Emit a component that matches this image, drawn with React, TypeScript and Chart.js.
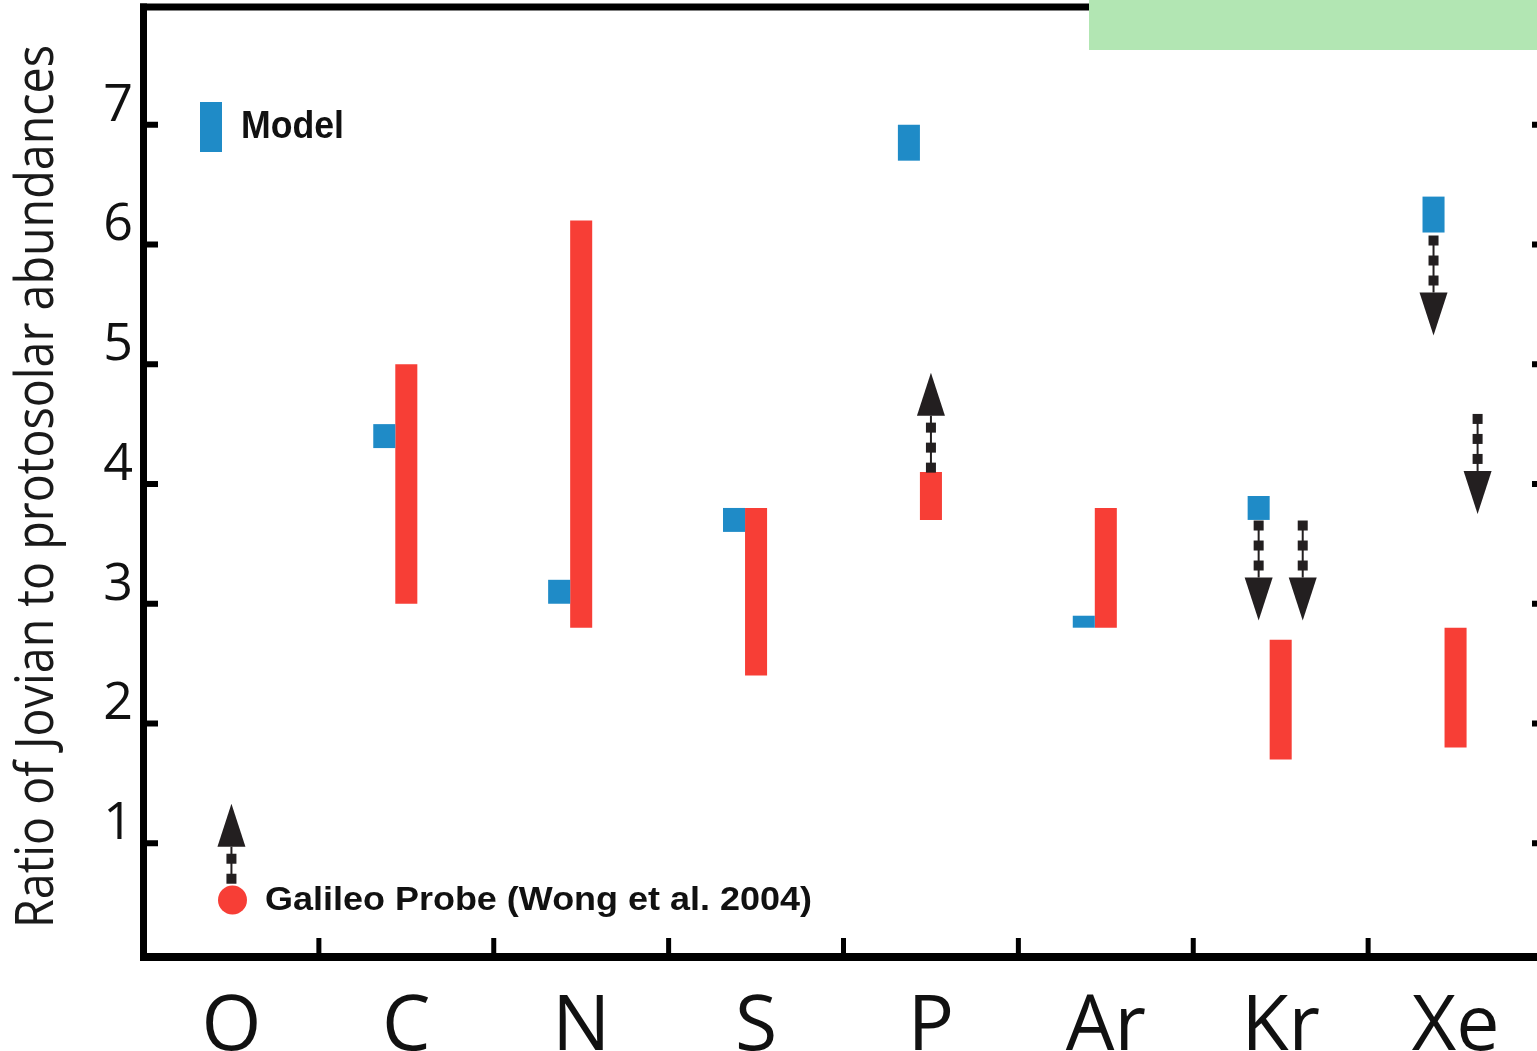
import React, { useEffect, useRef } from 'react';
import { Chart, registerables } from 'chart.js';

Chart.register(...registerables);

// ---------- data ----------
const categories = ['O', 'C', 'N', 'S', 'P', 'Ar', 'Kr', 'Xe'];
const modelLow = [null, 4.3, 3.0, 3.6, 6.7, 2.8, 3.7, 6.1];
const modelHigh = [null, 4.5, 3.2, 3.8, 7.0, 2.9, 3.9, 6.4];
const probeLow = [null, 3.0, 2.8, 2.4, 3.7, 2.8, 1.7, 1.8];
const probeHigh = [null, 5.0, 6.2, 3.8, 4.1, 3.8, 2.7, 2.8];
const yTickValues = [1, 2, 3, 4, 5, 6, 7];

// limit arrows (category, which slot they belong to, start value, tip value)
const arrowCategory = ['O', 'P', 'Kr', 'Kr', 'Xe', 'Xe'];
const arrowSlot = ['probe', 'probe', 'model', 'extra', 'model', 'extra'];
const arrowFrom = [0.62, 4.1, 3.7, 3.7, 6.1, 4.6];
const arrowTo = [1.33, 4.93, 2.86, 2.86, 5.24, 3.75];

const legendLabels = ['Model', 'Galileo Probe (Wong et al. 2004)'];
const yTitle = 'Ratio of Jovian to protosolar abundances';

// ---------- styles ----------
const BLUE = '#1f8bc7';
const RED = '#f73e36';
const INK = '#111111';
const ARROW = '#231f20';
const GREEN = '#b2e6b3';
const CAT_PCT = 0.378;
const CANVAS_W = 1560;
const CANVAS_H = 1051;

function fittedText(ctx: CanvasRenderingContext2D, text: string, x: number, y: number, width: number) {
  const m = ctx.measureText(text).width;
  ctx.save();
  ctx.translate(x, y);
  ctx.scale(width / m, 1);
  ctx.fillText(text, 0, 0);
  ctx.restore();
}

const decorPlugin = {
  id: 'decor',
  afterDatasetsDraw(chart: any) {
    const { ctx, chartArea: ca, scales } = chart;
    const xs = scales.x;
    const ys = scales.y;
    const catW = (ca.right - ca.left) / categories.length;
    const slot = (catW * CAT_PCT) / 3;
    ctx.save();
    ctx.fillStyle = ARROW;
    ctx.strokeStyle = ARROW;
    for (let i = 0; i < arrowCategory.length; i++) {
      const idx = categories.indexOf(arrowCategory[i]);
      const off = arrowSlot[i] === 'model' ? -slot : arrowSlot[i] === 'extra' ? slot : 0;
      const x = xs.getPixelForValue(idx) + off;
      const yFrom = ys.getPixelForValue(arrowFrom[i]);
      const yTo = ys.getPixelForValue(arrowTo[i]);
      const dir = Math.sign(yTo - yFrom);
      const headLen = 43;
      const headHalf = 14;
      const baseY = yTo - dir * headLen;
      const stem = Math.abs(baseY - yFrom);
      let lastD = 0;
      for (let d = 12; d + 5 <= stem + 1; d += 20) {
        const cy = baseY - dir * d;
        ctx.fillRect(x - 5, cy - 5, 10, 10);
        lastD = d;
      }
      ctx.lineWidth = 2;
      ctx.beginPath();
      ctx.moveTo(x, baseY - dir * lastD);
      ctx.lineTo(x, baseY);
      ctx.stroke();
      ctx.beginPath();
      ctx.moveTo(x - headHalf, baseY);
      ctx.lineTo(x + headHalf, baseY);
      ctx.lineTo(x, yTo);
      ctx.closePath();
      ctx.fill();
    }
    ctx.restore();
  },
  afterDraw(chart: any) {
    const { ctx, chartArea: ca, scales } = chart;
    const xs = scales.x;
    const ys = scales.y;
    ctx.save();
    ctx.fillStyle = '#000';
    // frame
    const left = ca.left - 4;
    const top = ca.top - 1.5;
    const bottom = ca.bottom - 2;
    const right = ca.right + 3;
    ctx.fillRect(left, top, 7, bottom - top);
    ctx.fillRect(left, top, right - left + 7, 7);
    ctx.fillRect(left, bottom - 8, right - left + 7, 8);
    ctx.fillRect(right, top, 7, bottom - top);
    // y ticks (inward, both sides)
    for (const v of yTickValues) {
      const y = ys.getPixelForValue(v);
      ctx.fillRect(left + 7, y - 3, 11, 6);
      ctx.fillRect(right - 14, y - 3, 14, 6);
    }
    // x ticks at category boundaries
    for (let i = 0; i < categories.length - 1; i++) {
      const x = (xs.getPixelForValue(i) + xs.getPixelForValue(i + 1)) / 2;
      ctx.fillRect(x - 2.5, bottom - 23, 5, 16);
    }
    // legend
    ctx.fillStyle = BLUE;
    ctx.fillRect(200, 102, 22, 50);
    ctx.fillStyle = RED;
    ctx.beginPath();
    ctx.arc(232.5, 900, 14.5, 0, Math.PI * 2);
    ctx.fill();
    ctx.fillStyle = INK;
    ctx.textAlign = 'left';
    ctx.textBaseline = 'alphabetic';
    ctx.font = 'bold 38px "Liberation Sans", Arial, sans-serif';
    fittedText(ctx, legendLabels[0], 241, 137.5, 103);
    ctx.font = 'bold 34px "Liberation Sans", Arial, sans-serif';
    fittedText(ctx, legendLabels[1], 265, 910, 547);
    // y title
    ctx.save();
    ctx.translate(53, 486.5);
    ctx.rotate(-Math.PI / 2);
    ctx.font = '53px "Open Sans", sans-serif';
    ctx.fillStyle = '#1a1a1a';
    const w = ctx.measureText(yTitle).width;
    ctx.scale(883 / w, 1);
    ctx.textAlign = 'center';
    ctx.fillText(yTitle, 0, 0);
    ctx.restore();
    // green block at top right
    ctx.fillStyle = GREEN;
    ctx.fillRect(1089, 0, CANVAS_W - 1089, 50);
    ctx.restore();
  },
};

export default function App() {
  const ref = useRef<HTMLCanvasElement | null>(null);
  useEffect(() => {
    if (!ref.current) return;
    const chart = new Chart(ref.current, {
      type: 'bar',
      data: {
        labels: categories,
        datasets: [
          {
            label: 'Model',
            data: modelLow.map((l, i) => (l == null ? null : [l, modelHigh[i] as number])) as any,
            backgroundColor: BLUE,
            borderWidth: 0,
            categoryPercentage: CAT_PCT,
            barPercentage: 1,
          },
          {
            label: 'Galileo Probe',
            data: probeLow.map((l, i) => (l == null ? null : [l, probeHigh[i] as number])) as any,
            backgroundColor: RED,
            borderWidth: 0,
            categoryPercentage: CAT_PCT,
            barPercentage: 1,
          },
          {
            label: '',
            data: categories.map(() => null) as any,
            backgroundColor: 'rgba(0,0,0,0)',
            borderWidth: 0,
            categoryPercentage: CAT_PCT,
            barPercentage: 1,
          },
        ],
      },
      options: {
        responsive: false,
        animation: false,
        devicePixelRatio: 1,
        layout: { padding: { left: 0, top: 5, right: 17, bottom: 0 } },
        plugins: { legend: { display: false }, tooltip: { enabled: false } },
        scales: {
          x: {
            type: 'category',
            grid: { display: false },
            border: { display: false },
            ticks: {
              font: { family: '"Open Sans", sans-serif', size: 77 },
              color: INK,
              padding: 11,
              maxRotation: 0,
              minRotation: 0,
              autoSkip: false,
            },
            afterFit: (s: any) => {
              s.height = 88;
              s.paddingLeft = 0;
              s.paddingRight = 0;
            },
          },
          y: {
            type: 'linear',
            min: 0,
            max: 8,
            grid: { display: false },
            border: { display: false },
            ticks: {
              font: { family: '"Open Sans", sans-serif', size: 52 },
              color: INK,
              padding: 3,
              labelOffset: -19,
              autoSkip: false,
            },
            afterBuildTicks: (s: any) => {
              s.ticks = yTickValues.map((v) => ({ value: v }));
            },
            afterFit: (s: any) => {
              s.width = 144;
              s.paddingTop = 0;
              s.paddingBottom = 0;
            },
          },
        },
      },
      plugins: [decorPlugin],
    });
    return () => chart.destroy();
  }, []);
  return (
    <div
      style={{
        position: 'absolute',
        left: 0,
        top: 0,
        width: 1537,
        height: 1051,
        overflow: 'hidden',
        background: '#fff',
      }}
    >
      <canvas ref={ref} width={CANVAS_W} height={CANVAS_H} style={{ display: 'block' }} />
    </div>
  );
}
